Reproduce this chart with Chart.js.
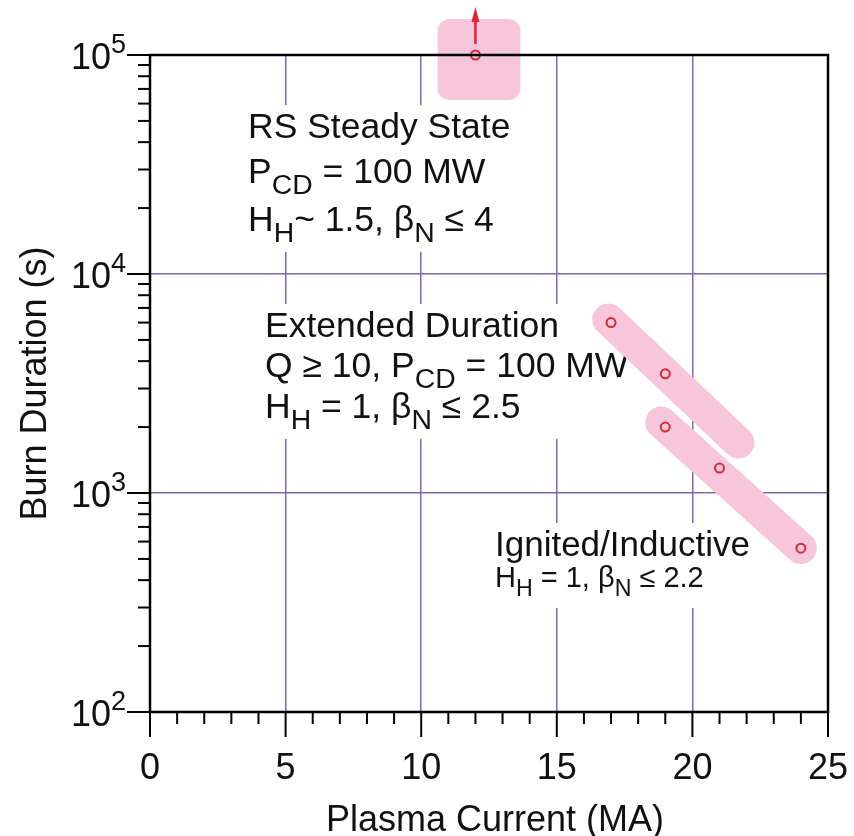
<!DOCTYPE html>
<html>
<head>
<meta charset="utf-8">
<script src="https://cdn.jsdelivr.net/npm/chart.js@4.4.1/dist/chart.umd.min.js"></script>
<style>
  html, body { margin: 0; padding: 0; background: #fff; }
  canvas { display: block; }
</style>
</head>
<body>
<canvas id="burnChart" width="854" height="836"></canvas>
<script>
// operating points: plasma current (MA) vs burn duration (s)
const steadyCurrent = [12];
const steadyDuration = [100000];
const extendedCurrent = [17, 19];
const extendedDuration = [6000, 3500];
const ignitedCurrent = [19, 21, 24];
const ignitedDuration = [2000, 1300, 560];

// pink bands behind the points (end points of each band)
const extendedBandCurrent = [16.9, 21.7];
const extendedBandDuration = [6200, 1700];
const ignitedBandCurrent = [18.85, 24];
const ignitedBandDuration = [2100, 560];

const xTickLabels = [0, 5, 10, 15, 20, 25];
const yTickExponents = [2, 3, 4, 5];

const xTitle = "Plasma Current (MA)";
const yTitle = "Burn Duration (s)";

// text blocks, each run is [text, subscript?]
const rsLines = [
    [["RS Steady State", false]],
    [["P", false], ["CD", true], [" = 100 MW", false]],
    [["H", false], ["H", true], ["~ 1.5, \u03b2", false], ["N", true], [" \u2264 4", false]],
];
const extendedLines = [
    [["Extended Duration", false]],
    [["Q \u2265 10, P", false], ["CD", true], [" = 100 MW", false]],
    [["H", false], ["H", true], [" = 1, \u03b2", false], ["N", true], [" \u2264 2.5", false]],
];
const ignitedLines = [
    [["Ignited/Inductive", false]],
    [["H", false], ["H", true], [" = 1, \u03b2", false], ["N", true], [" \u2264 2.2", false]],
];

const FONT = '"Liberation Sans", Arial, sans-serif';
const gridColor = "#8066b8";
const pink = "#f8c6db";
const red = "#d62836";
const ink = "#111";

function toPoints(xs, ys) {
    return xs.map((x, i) => ({ x: x, y: ys[i] }));
}

// rounded pink square used as the marker for the steady state region
function makeSteadyBox() {
    const c = document.createElement("canvas");
    c.width = 96;
    c.height = 96;
    const g = c.getContext("2d");
    g.fillStyle = pink;
    g.beginPath();
    g.roundRect(10, 12, 83, 81, 12);
    g.fill();
    return c;
}

function isDecade(v) {
    const l = Math.log10(v);
    return Math.abs(l - Math.round(l)) < 1e-6;
}

function drawRich(ctx, runs, x, y, size) {
    let cx = x;
    runs.forEach(run => {
        const sub = run[1];
        const s = sub ? size * 0.8 : size;
        ctx.font = s + "px " + FONT;
        ctx.fillText(run[0], cx, sub ? y + size * 0.3 : y);
        cx += ctx.measureText(run[0]).width;
    });
    return cx - x;
}

function richWidth(ctx, runs, size) {
    let w = 0;
    runs.forEach(run => {
        ctx.font = (run[1] ? size * 0.8 : size) + "px " + FONT;
        w += ctx.measureText(run[0]).width;
    });
    return w;
}

function drawBlock(ctx, lines, x, baselines, sizes) {
    let maxW = 0;
    lines.forEach((runs, i) => {
        maxW = Math.max(maxW, richWidth(ctx, runs, sizes[i]));
    });
    const top = baselines[0] - 33;
    const bottom = baselines[baselines.length - 1] + 21;
    ctx.fillStyle = "#fff";
    ctx.fillRect(x - 8, top, maxW + 16, bottom - top);
    ctx.fillStyle = ink;
    ctx.textAlign = "left";
    ctx.textBaseline = "alphabetic";
    lines.forEach((runs, i) => {
        drawRich(ctx, runs, x, baselines[i], sizes[i]);
    });
}

const annotationPlugin = {
    id: "annotations",
    beforeDatasetsDraw(chart) {
        const ctx = chart.ctx;
        ctx.save();
        drawBlock(ctx, rsLines, 248, [138, 183, 231], [35.5, 35.5, 35.5]);
        drawBlock(ctx, extendedLines, 265, [337, 377, 418], [35.5, 35.5, 35.5]);
        drawBlock(ctx, ignitedLines, 495, [556, 587], [35, 29]);
        ctx.restore();
    },
    afterDraw(chart) {
        const ctx = chart.ctx;
        const area = chart.chartArea;
        const xs = chart.scales.x;
        const ys = chart.scales.y;
        ctx.save();

        // arrow above the steady state point
        const ax = xs.getPixelForValue(steadyCurrent[0]);
        const ay = ys.getPixelForValue(steadyDuration[0]);
        ctx.strokeStyle = red;
        ctx.fillStyle = red;
        ctx.lineWidth = 2.5;
        ctx.beginPath();
        ctx.moveTo(ax, ay - 11);
        ctx.lineTo(ax, ay - 34);
        ctx.stroke();
        ctx.beginPath();
        ctx.moveTo(ax, ay - 48);
        ctx.lineTo(ax - 4, ay - 33);
        ctx.lineTo(ax + 4, ay - 33);
        ctx.closePath();
        ctx.fill();

        // frame
        ctx.strokeStyle = "#000";
        ctx.lineWidth = 2.5;
        ctx.strokeRect(area.left, area.top, area.right - area.left, area.bottom - area.top);

        // x ticks
        ctx.lineWidth = 2;
        for (let v = 0; v <= 25; v++) {
            const px = xs.getPixelForValue(v);
            const len = v % 5 === 0 ? 25 : 12;
            ctx.beginPath();
            ctx.moveTo(px, area.bottom);
            ctx.lineTo(px, area.bottom + len);
            ctx.stroke();
        }
        // y ticks (log)
        for (let e = 2; e <= 5; e++) {
            for (let m = 1; m <= 9; m++) {
                if (e === 5 && m > 1) break;
                const py = ys.getPixelForValue(m * Math.pow(10, e));
                const len = m === 1 ? 23 : 12;
                ctx.beginPath();
                ctx.moveTo(area.left, py);
                ctx.lineTo(area.left - len, py);
                ctx.stroke();
            }
        }

        // tick labels
        ctx.fillStyle = ink;
        ctx.textBaseline = "alphabetic";
        ctx.font = "36px " + FONT;
        ctx.textAlign = "center";
        xTickLabels.forEach(v => {
            ctx.fillText(String(v), xs.getPixelForValue(v), 779);
        });
        ctx.textAlign = "left";
        yTickExponents.forEach(e => {
            const py = ys.getPixelForValue(Math.pow(10, e));
            ctx.font = "27px " + FONT;
            const supW = ctx.measureText(String(e)).width;
            ctx.font = "36px " + FONT;
            const baseW = ctx.measureText("10").width;
            const right = area.left - 24;
            ctx.fillText("10", right - supW - baseW, py + 14);
            ctx.font = "27px " + FONT;
            ctx.fillText(String(e), right - supW, py - 2);
        });

        // axis titles
        ctx.font = "36px " + FONT;
        ctx.textAlign = "center";
        ctx.fillText(xTitle, (area.left + area.right) / 2 + 6, 831);
        ctx.translate(46, (area.top + area.bottom) / 2);
        ctx.rotate(-Math.PI / 2);
        ctx.fillText(yTitle, 0, 0);
        ctx.restore();
    },
};

const pointStyle = {
    showLine: false,
    pointStyle: "circle",
    pointRadius: 4.5,
    pointBorderWidth: 2,
    pointBorderColor: red,
    pointBackgroundColor: "rgba(0,0,0,0)",
    order: 1,
};

const bandStyle = {
    showLine: true,
    borderColor: pink,
    borderWidth: 32,
    borderCapStyle: "round",
    pointRadius: 0,
    order: 3,
};

new Chart(document.getElementById("burnChart"), {
    type: "scatter",
    data: {
        datasets: [
            Object.assign({ label: "Steady state", data: toPoints(steadyCurrent, steadyDuration), clip: false }, pointStyle),
            Object.assign({ label: "Extended duration", data: toPoints(extendedCurrent, extendedDuration) }, pointStyle),
            Object.assign({ label: "Ignited/Inductive", data: toPoints(ignitedCurrent, ignitedDuration) }, pointStyle),
            {
                label: "Steady state region",
                data: toPoints(steadyCurrent, steadyDuration),
                pointStyle: makeSteadyBox(),
                pointRadius: 10,
                clip: false,
                order: 3,
            },
            Object.assign({ label: "Extended band", data: toPoints(extendedBandCurrent, extendedBandDuration) }, bandStyle),
            Object.assign({ label: "Ignited band", data: toPoints(ignitedBandCurrent, ignitedBandDuration) }, bandStyle),
        ],
    },
    options: {
        responsive: false,
        animation: false,
        events: [],
        layout: { padding: { top: 55, right: 26, left: 0, bottom: 0 } },
        plugins: { legend: { display: false }, tooltip: { enabled: false } },
        scales: {
            x: {
                type: "linear",
                min: 0,
                max: 25,
                ticks: { stepSize: 5, display: false },
                border: { display: false },
                grid: {
                    drawTicks: false,
                    lineWidth: 1.5,
                    color: c => (c.tick && c.tick.value > 0 && c.tick.value < 25) ? gridColor : "rgba(0,0,0,0)",
                },
                afterFit: s => { s.height = 124; },
            },
            y: {
                type: "logarithmic",
                min: 100,
                max: 100000,
                ticks: { display: false },
                border: { display: false },
                grid: {
                    drawTicks: false,
                    lineWidth: 1.5,
                    color: c => (c.tick && isDecade(c.tick.value) && c.tick.value > 100 && c.tick.value < 100000) ? gridColor : "rgba(0,0,0,0)",
                },
                afterFit: s => { s.width = 150; },
            },
        },
    },
    plugins: [annotationPlugin],
});
</script>
</body>
</html>
